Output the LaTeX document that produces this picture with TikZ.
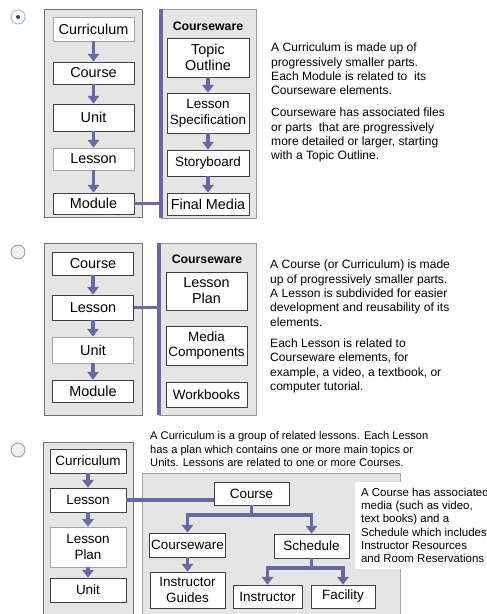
\documentclass[tikz,border=0pt]{standalone}
\usepackage{fontspec}
\setmainfont{Liberation Sans}
\usetikzlibrary{arrows.meta}
\definecolor{flowblue}{RGB}{102,105,163}
\definecolor{panelgray}{RGB}{229,229,229}
\definecolor{radioblue}{RGB}{150,188,218}

\begin{document}
\begin{tikzpicture}[x=0.03cm, y=-0.03cm, >={Triangle[width=0.34cm,length=0.23cm]},
  cell/.style={draw=black!75, fill=white, line width=0.7pt, align=center, inner sep=1pt, font={\fontsize{12.3}{13.6}\selectfont}},
  tight/.style={font={\fontsize{11.5}{13.6}\selectfont}},
  pale/.style={draw=black!35},
  flow/.style={->, draw=flowblue, line width=2.8pt},
  link/.style={draw=flowblue, line width=2.6pt},
  bar/.style={draw=flowblue, line width=3.6pt},
  panel/.style={fill=panelgray, draw=black!55, line width=0.7pt},
  heading/.style={font={\bfseries\fontsize{10.5}{12}\selectfont}},
  note/.style={align=left, anchor=north west, inner sep=0pt, font={\fontsize{10.3}{12.2}\selectfont}},
  radio/.style={draw=black!38, fill=black!6, line width=0.8pt}]
\useasboundingbox (0,0) rectangle (487,614);

% first choice
\draw[radio, draw=radioblue, fill=white] (18,17) circle[radius=0.21cm];
\fill[black!75] (18,17) circle[radius=0.06cm];
\draw[panel] (44,9) rectangle (142,217);
\draw[panel, draw=black!40] (161,9) rectangle (256,218);
\coordinate (bar1top) at (161,9);
\coordinate (bar1bot) at (161,218);
\draw[bar] (bar1top) -- (bar1bot);

\node[cell, pale, minimum width=2.43cm, minimum height=0.72cm] (cur1) at (93.5,29) {Curriculum};
\node[cell, minimum width=2.43cm, minimum height=0.66cm] (cou1) at (93.5,73) {Course};
\node[cell, minimum width=2.43cm, minimum height=0.81cm] (unit1) at (93.5,117.5) {Unit};
\node[cell, pale, minimum width=2.43cm, minimum height=0.66cm] (les1) at (93.5,159) {Lesson};
\node[cell, minimum width=2.43cm, minimum height=0.63cm] (mod1) at (93.5,203.5) {Module};

\node[heading] (ware1) at (208,26) {Courseware};
\node[cell, minimum width=2.46cm, minimum height=1.17cm] (topic1) at (208,57.5) {Topic\\Outline};
\node[cell, tight, minimum width=2.46cm, minimum height=1.2cm] (spec1) at (208,113) {Lesson\\Specification};
\node[cell, tight, minimum width=2.46cm, minimum height=0.78cm] (story1) at (208,163) {Storyboard};
\node[cell, minimum width=2.46cm, minimum height=0.66cm] (final1) at (208,204) {Final Media};

\draw[flow] (cur1) -- (cou1);
\draw[flow] (cou1) -- (unit1);
\draw[flow] (unit1) -- (les1);
\draw[flow] (les1) -- (mod1);
\draw[flow] (topic1) -- (spec1);
\draw[flow] (spec1) -- (story1);
\draw[flow] (story1) -- (final1);
\draw[link] (mod1.east) -- (mod1.east -| bar1top);

\node[note] (text1) at (271,43) {A Curriculum is made up of\\
progressively smaller parts.\\
Each Module is related to\ \ its\\
Courseware elements.\\[6.5pt]
Courseware has associated files\\
or parts\ \ that are progressively\\
more detailed or larger, starting\\
with a Topic Outline.};

% second choice
\draw[radio] (18,252) circle[radius=0.21cm];
\draw[panel] (44,243) rectangle (142,415);
\draw[panel, draw=black!40] (159,243) rectangle (256,415);
\coordinate (bar2top) at (159,243);
\coordinate (bar2bot) at (159,415);
\draw[bar] (bar2top) -- (bar2bot);

\node[cell, minimum width=2.43cm, minimum height=0.69cm] (cou2) at (93,263.5) {Course};
\node[cell, minimum width=2.43cm, minimum height=0.75cm] (les2) at (93,307.5) {Lesson};
\node[cell, pale, minimum width=2.43cm, minimum height=0.78cm] (unit2) at (93,350) {Unit};
\node[cell, minimum width=2.43cm, minimum height=0.66cm] (mod2) at (93,391) {Module};

\node[heading] (ware2) at (207,259) {Courseware};
\node[cell, minimum width=2.43cm, minimum height=1.14cm] (plan2) at (206.5,291) {Lesson\\Plan};
\node[cell, tight, minimum width=2.43cm, minimum height=1.17cm] (media2) at (206.5,345.5) {Media\\Components};
\node[cell, tight, minimum width=2.43cm, minimum height=0.75cm] (work2) at (206.5,394.5) {Workbooks};

\draw[flow] (cou2) -- (les2);
\draw[flow] (les2) -- (unit2);
\draw[flow] (unit2) -- (mod2);
\draw[link] (les2.east) -- (les2.east -| bar2top);

\node[note] (text2) at (270,260) {A Course (or Curriculum) is made\\
up of progressively smaller parts.\\
A Lesson is subdivided for easier\\
development and reusability of its\\
elements.\\[6pt]
Each Lesson is related to\\
Courseware elements, for\\
example, a video, a textbook, or\\
computer tutorial.};

% third choice
\draw[radio] (18,450) circle[radius=0.21cm];
\node[note, font={\fontsize{9.5}{11.5}\selectfont}] (text3) at (150,431.5) {A Curriculum is a group of related lessons. Each Lesson\\
has a plan which contains one or more main topics or\\
Units. Lessons are related to one or more Courses.};
\draw[panel] (43,442) rectangle (133,625);
\draw[panel, draw=black!35] (142,473) rectangle (400,625);

\node[cell, tight, minimum width=2.28cm, minimum height=0.72cm] (cur3) at (88,461) {Curriculum};
\node[cell, tight, minimum width=2.28cm, minimum height=0.72cm] (les3) at (88,500) {Lesson};
\node[cell, tight, pale, minimum width=2.28cm, minimum height=1.2cm] (plan3) at (88,547) {Lesson\\Plan};
\node[cell, tight, minimum width=2.28cm, minimum height=0.72cm] (unit3) at (88,590) {Unit};

\draw[flow] (cur3) -- (les3);
\draw[flow] (les3) -- (plan3);
\draw[flow] (plan3) -- (unit3);

\node[cell, tight, minimum width=2.25cm, minimum height=0.69cm] (course3) at (251.5,493.5) {Course};
\node[cell, tight, minimum width=2.28cm, minimum height=0.72cm] (ware3) at (187.5,545) {Courseware};
\node[cell, tight, minimum width=2.25cm, minimum height=0.72cm] (sched3) at (311.5,546) {Schedule};
\node[cell, tight, minimum width=2.25cm, minimum height=1.08cm] (guide3) at (187.5,590) {Instructor\\Guides};
\node[cell, tight, minimum width=2.07cm, minimum height=0.69cm] (instr3) at (267.5,596.5) {Instructor};
\node[cell, tight, minimum width=1.92cm, minimum height=0.69cm] (fac3) at (343,596.5) {Facility};
\coordinate (fork3a) at (251.5,515);
\coordinate (fork3b) at (311.5,568);

\draw[link] (les3.east) -- (les3.east -| course3.west);
\draw[flow] (course3.south) -- (fork3a) -| (ware3.north);
\draw[flow] (fork3a) -| (sched3.north);
\draw[flow] (ware3) -- (guide3);
\draw[flow] (sched3.south) -- (fork3b) -| (instr3.north);
\draw[flow] (fork3b) -| (fac3.north);

\node[note, fill=white, inner sep=5pt, font={\fontsize{9.8}{11.3}\selectfont}] (text4) at (355,482) {A Course has associated\\
media (such as video,\\
text books) and a\\
Schedule which includes\\
Instructor Resources\\
and Room Reservations};
\end{tikzpicture}
\end{document}
